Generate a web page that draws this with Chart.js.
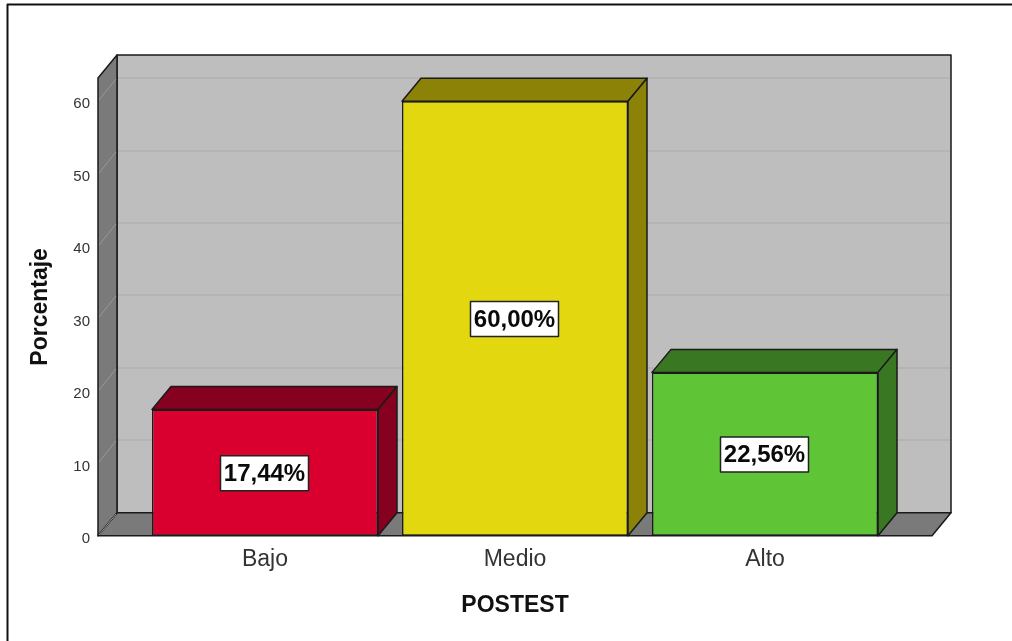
<!DOCTYPE html>
<html><head><meta charset="utf-8">
<style>html,body{margin:0;padding:0;background:#fff}#w{width:1012px;height:641px;position:relative}</style>
<script src="https://cdn.jsdelivr.net/npm/chart.js@4"></script></head>
<body><div id="w"><canvas id="c" width="1012" height="641"></canvas></div>
<script>
const categories = ['Bajo', 'Medio', 'Alto'];
const values = [17.44, 60.00, 22.56];
const valueLabels = ['17,44%', '60,00%', '22,56%'];
const frontColors = ['#D9002F', '#E3D80F', '#5FC537'];
const darkColors = ['#86001F', '#8C8208', '#3A7722'];
const yTicks = [0, 10, 20, 30, 40, 50, 60];
const yMax = 63.2;
const DX = 19, DY = -23, EXT_L = 42, EXT_R = 42;
const FONT = '"Liberation Sans", Arial, sans-serif';
const LINE = '#1a1a1a';

function poly(ctx, pts, fill, stroke, lw) {
  ctx.beginPath();
  pts.forEach((p, i) => i ? ctx.lineTo(p[0], p[1]) : ctx.moveTo(p[0], p[1]));
  ctx.closePath();
  if (fill) { ctx.fillStyle = fill; ctx.fill(); }
  if (stroke) { ctx.strokeStyle = stroke; ctx.lineWidth = lw || 1.5; ctx.lineJoin = 'round'; ctx.stroke(); }
}

const scene = {
  id: 'scene',
  beforeDatasetsDraw(chart) {
    const {ctx, chartArea: a, scales: {y}} = chart;
    const l = a.left - EXT_L, r = a.right + EXT_R, b = a.bottom, t = a.top;
    ctx.save();
    poly(ctx, [[l+DX,t+DY],[r+DX,t+DY],[r+DX,b+DY],[l+DX,b+DY]], '#BEBEBE', LINE, 1.5);
    yTicks.forEach(v => {
      const py = Math.round(y.getPixelForValue(v));
      ctx.beginPath();
      ctx.strokeStyle = '#B0B0B0'; ctx.lineWidth = 1.5;
      ctx.moveTo(l+DX+1, py+DY); ctx.lineTo(r+DX-1, py+DY); ctx.stroke();
    });
    poly(ctx, [[l,b],[r,b],[r+DX,b+DY],[l+DX,b+DY]], '#7A7A7A', LINE, 1.5);
    poly(ctx, [[l,t],[l+DX,t+DY],[l+DX,b+DY],[l,b]], '#7A7A7A', LINE, 1.5);
    yTicks.forEach(v => {
      const py = Math.round(y.getPixelForValue(v));
      ctx.beginPath();
      ctx.strokeStyle = '#979797'; ctx.lineWidth = 1;
      ctx.moveTo(l+1, py-1); ctx.lineTo(l+DX-1, py+DY+1); ctx.stroke();
    });
    ctx.restore();
  },
  afterDatasetsDraw(chart) {
    const {ctx} = chart;
    const bars = chart.getDatasetMeta(0).data;
    ctx.save();
    bars.forEach((bar, i) => {
      const L = bar.x - bar.width/2, R = bar.x + bar.width/2, T = bar.y, B = bar.base;
      poly(ctx, [[L,T],[L+DX,T+DY],[R+DX,T+DY],[R,T]], darkColors[i], LINE, 1.5);
      poly(ctx, [[R,T],[R+DX,T+DY],[R+DX,B+DY],[R,B]], darkColors[i], LINE, 1.5);
    });
    ctx.font = 'bold 24px ' + FONT;
    ctx.textAlign = 'center'; ctx.textBaseline = 'middle';
    bars.forEach((bar, i) => {
      const cy = (bar.y + bar.base)/2 + 0.5, w = 88, h = 35;
      ctx.fillStyle = '#fff'; ctx.strokeStyle = '#222'; ctx.lineWidth = 1.5;
      ctx.fillRect(bar.x-w/2-0.5, cy-h/2, w, h);
      ctx.strokeRect(bar.x-w/2-0.5, cy-h/2, w, h);
      ctx.fillStyle = '#0a0a0a';
      ctx.fillText(valueLabels[i], bar.x-0.5, cy+1);
    });
    // outer frame: only the top and left edges fall inside the picture
    ctx.strokeStyle = '#111'; ctx.lineWidth = 2;
    ctx.beginPath();
    ctx.moveTo(1012, 4.5); ctx.lineTo(7.5, 4.5); ctx.lineTo(7.5, 641);
    ctx.stroke();
    ctx.restore();
  }
};

new Chart(document.getElementById('c'), {
  type: 'bar',
  data: {
    labels: categories,
    datasets: [{
      data: values,
      backgroundColor: frontColors,
      borderColor: LINE,
      borderWidth: 1.5,
      borderSkipped: false,
      categoryPercentage: 1,
      barPercentage: 0.904
    }]
  },
  plugins: [scene],
  options: {
    responsive: false,
    animation: false,
    layout: {padding: {left: 27, right: 122, top: 78, bottom: 0}},
    plugins: {legend: {display: false}, tooltip: {enabled: false}},
    scales: {
      x: {
        grid: {display: false, drawTicks: false},
        border: {display: false},
        ticks: {color: '#333', font: {family: FONT, size: 23}, padding: 10, maxRotation: 0},
        title: {display: true, text: 'POSTEST', color: '#111', font: {family: FONT, size: 23, weight: 'bold'}, padding: {top: 8, bottom: 22}}
      },
      y: {
        min: 0, max: yMax,
        afterBuildTicks(s) { s.ticks = yTicks.map(v => ({value: v})); },
        afterFit(s) { s.width = 113; },
        grid: {display: false, drawTicks: false},
        border: {display: false},
        ticks: {
          color: '#333', autoSkip: false, padding: 50,
          font: {family: FONT, size: 15, lineHeight: '6px'},
          callback: v => ['', String(v)]
        },
        title: {display: true, text: 'Porcentaje', color: '#111', font: {family: FONT, size: 23, weight: 'bold'}, padding: 0}
      }
    }
  }
});
</script></body></html>
